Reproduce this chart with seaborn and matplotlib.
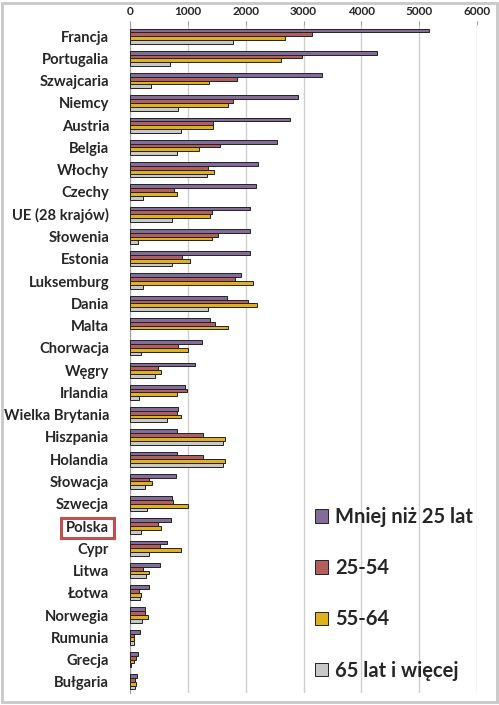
import numpy as np
import pandas as pd
import seaborn as sns
import matplotlib.pyplot as plt
from matplotlib.patches import Rectangle

countries = ["Francja", "Portugalia", "Szwajcaria", "Niemcy", "Austria", "Belgia",
             "Włochy", "Czechy", "UE (28 krajów)", "Słowenia", "Estonia", "Luksemburg",
             "Dania", "Malta", "Chorwacja", "Węgry", "Irlandia", "Wielka Brytania",
             "Hiszpania", "Holandia", "Słowacja", "Szwecja", "Polska", "Cypr", "Litwa",
             "Łotwa", "Norwegia", "Rumunia", "Grecja", "Bułgaria"]

under25 = [5167, 4269, 3320, 2900, 2768, 2543, 2209, 2175, 2077, 2071, 2071, 1916,
           1674, 1387, 1237, 1128, 955, 823, 817, 817, 794, 719, 708, 639, 512,
           334, 265, 167, 138, 121]
age25_54 = [3153, 2969, 1853, 1778, 1433, 1548, 1352, 765, 1415, 1513, 903, 1824,
            2037, 1467, 829, 478, 978, 811, 1260, 1260, 328, 736, 478, 512, 219,
            150, 265, 63, 109, 81]
age55_64 = [2681, 2606, 1364, 1692, 1433, 1191, 1444, 811, 1387, 1415, 1030, 2123,
            2192, 1686, 995, 541, 806, 880, 1640, 1646, 380, 995, 541, 880, 322,
            196, 316, 75, 63, 98]
age65 = [1778, 690, 362, 834, 875, 811, 1323, 230, 725, 132, 725, 230,
         1341, np.nan, 184, 437, 155, 644, 1600, 1600, 259, 293, 184, 328, 282,
         173, 207, 75, 17, 81]

series = ["Mniej niż 25 lat", "25-54", "55-64", "65 lat i więcej"]
colors = ["#8064A2", "#C0504D", "#FFC000", "#C8C8C8"]

rows = []
for name, vals in zip(series, [under25, age25_54, age55_64, age65]):
    for c, v in zip(countries, vals):
        rows.append({"kraj": c, "grupa": name, "wartosc": v})
df = pd.DataFrame(rows)

sns.set_style("white")
plt.rcParams["font.family"] = ["Lato", "DejaVu Sans"]

fig = plt.figure(figsize=(4.99, 7.05), dpi=100)
ax = fig.add_axes([130 / 499, 1 - 693 / 705, 347 / 499, 668 / 705])

sns.barplot(data=df, y="kraj", x="wartosc", hue="grupa", order=countries,
            hue_order=series, palette=colors, orient="h", errorbar=None,
            width=0.68, edgecolor="#222222", linewidth=0.7, ax=ax, zorder=3)

ax.set_xlim(0, 6000)
ax.set_ylim(len(countries) - 0.5, -0.5)
ax.set_xticks(range(0, 6001, 1000))
ax.xaxis.tick_top()
ax.grid(axis="x", color="#CFCFCF", linewidth=1, zorder=0)
ax.set_axisbelow(True)
ax.set_xlabel("")
ax.set_ylabel("")
for s in ["top", "right", "bottom"]:
    ax.spines[s].set_visible(False)
ax.spines["left"].set_color("#A0A0A0")
ax.tick_params(axis="x", length=3, color="#A0A0A0", pad=3, labelsize=8.5)
ax.tick_params(axis="y", which="major", length=0, pad=15, labelsize=10.6)
ax.set_yticks(np.arange(-0.5, len(countries), 1), minor=True)
ax.tick_params(axis="y", which="minor", length=4, color="#A0A0A0")
for lab in ax.get_xticklabels() + ax.get_yticklabels():
    lab.set_fontweight("bold")

leg = ax.legend(loc="upper left", bbox_to_anchor=(315 / 499, 1 - 507 / 705),
                bbox_transform=fig.transFigure, frameon=False, fontsize=14.5,
                handlelength=0.65, handleheight=0.65, handletextpad=0.35,
                labelspacing=1.55, borderaxespad=0, borderpad=0)
for t in leg.get_texts():
    t.set_fontweight("bold")

# red box around "Polska"
fig.canvas.draw()
for lab in ax.get_yticklabels():
    if lab.get_text() == "Polska":
        bb = lab.get_window_extent()
        fig.patches.append(Rectangle((bb.x0 - 5, bb.y0 - 3), bb.width + 10, bb.height + 6,
                                     transform=None, fill=False, edgecolor="#C0504D",
                                     linewidth=2.2))

# light frame around the whole picture
fig.patches.append(Rectangle((0.004, 0.004), 0.992, 0.992, transform=fig.transFigure,
                             fill=False, edgecolor="#C8C8C8", linewidth=2))

fig.savefig("out.png", dpi=100)
